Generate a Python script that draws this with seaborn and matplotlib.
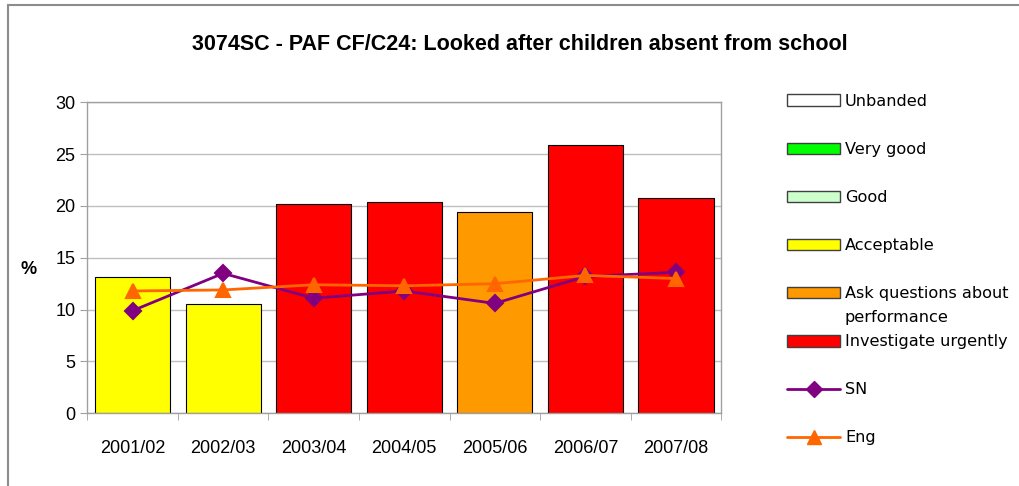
import numpy as np
import pandas as pd
import seaborn as sns
import matplotlib.pyplot as plt
from matplotlib.patches import Patch, Rectangle
from matplotlib.lines import Line2D

# Data
years = ['2001/02', '2002/03', '2003/04', '2004/05', '2005/06', '2006/07', '2007/08']
values = [13.1, 10.5, 20.2, 20.4, 19.4, 25.9, 20.8]
bands = ['Acceptable', 'Acceptable', 'Investigate urgently', 'Investigate urgently',
         'Ask questions about performance', 'Investigate urgently', 'Investigate urgently']
sn = [9.9, 13.5, 11.1, 11.8, 10.6, 13.2, 13.6]
eng = [11.8, 11.9, 12.4, 12.3, 12.5, 13.3, 13.0]

band_names = ['Unbanded', 'Very good', 'Good', 'Acceptable',
              'Ask questions about performance', 'Investigate urgently']
band_colors = ['#FFFFFF', '#00FF00', '#CCFFCC', '#FFFF00', '#FF9900', '#FF0000']
band_labels = ['Unbanded', 'Very good', 'Good', 'Acceptable',
               'Ask questions about\nperformance', 'Investigate urgently']

df = pd.DataFrame({'year': years, 'value': values, 'band': bands})
palette = dict(zip(band_names, band_colors))

sns.set_style('white')
plt.rcParams['font.family'] = ['Liberation Sans', 'DejaVu Sans']
plt.rcParams['text.color'] = 'black'
plt.rcParams['xtick.color'] = 'black'
plt.rcParams['ytick.color'] = 'black'
plt.rcParams['axes.labelcolor'] = 'black'

fig = plt.figure(figsize=(10.19, 4.86), dpi=100)
ax = fig.add_axes([87.3 / 1019, 1 - 413.3 / 486, 634 / 1019, 311 / 486])

sns.barplot(data=df, x='year', y='value', hue='band', palette=palette, dodge=False,
            width=0.83, saturation=1, edgecolor='black', linewidth=0.8, legend=False, ax=ax)

sns.pointplot(x=years, y=sn, color='#800080', markers='D', linestyles='-',
              markersize=8, linewidth=2, ax=ax)
sns.pointplot(x=years, y=eng, color='#FF6600', markers='^', linestyles='-',
              markersize=10, linewidth=2, ax=ax)

ax.set_xlim(-0.5, len(years) - 0.5)
ax.set_ylim(0, 30)
ax.set_yticks(range(0, 31, 5))
ax.yaxis.grid(True, color='#BFBFBF', linewidth=1)
ax.set_axisbelow(True)
for s in ax.spines.values():
    s.set_color('#A0A0A0')
    s.set_linewidth(1)
ax.set_xticks(np.arange(len(years) + 1) - 0.5, minor=True)
ax.tick_params(axis='x', which='major', length=0, labelsize=13, pad=19)
ax.tick_params(axis='x', which='minor', length=5, color='#A0A0A0', direction='out', bottom=True)
ax.tick_params(axis='y', length=5, color='#A0A0A0', direction='out', left=True, labelsize=13)
ax.set_xlabel('')
ax.set_ylabel('%', rotation=0, fontsize=13, fontweight='bold', va='center', ha='center')
ax.yaxis.set_label_coords(-(87.3 - 29) / 634, (413.3 - 270) / 311)

fig.text(520 / 1019, 1 - 45 / 486, '3074SC - PAF CF/C24: Looked after children absent from school',
         ha='center', va='center', fontsize=15.5, fontweight='bold')

# outer chart frame
fig.add_artist(Rectangle((8 / 1019, -0.1), 1.2, 1 - 5 / 486 + 0.1, transform=fig.transFigure,
                         fill=False, edgecolor='#8C8C8C', linewidth=1.5))

# legend, with blank rows to keep the spacing
blank = Line2D([], [], alpha=0)
handles, labels = [], []
for name, col in zip(band_labels, band_colors):
    if name.startswith('Ask'):
        handles += [Patch(facecolor=col, edgecolor='#404040'), blank]
        labels += ['Ask questions about', 'performance']
    else:
        handles += [Patch(facecolor=col, edgecolor='#404040'), blank]
        labels += [name, '']
handles += [Line2D([], [], color='#800080', marker='D', markersize=8, linewidth=2), blank,
            Line2D([], [], color='#FF6600', marker='^', markersize=10, linewidth=2)]
labels += ['SN', '', 'Eng']
fig.legend(handles, labels, loc='upper left', bbox_to_anchor=(787 / 1019, 1 - 94 / 486),
           frameon=False, handlelength=3.3, handleheight=0.75,
           handletextpad=0.3, labelspacing=0.56, borderaxespad=0, borderpad=0,
           prop={'family': 'DejaVu Sans', 'size': 11.6})

fig.savefig('out.png', dpi=100)
